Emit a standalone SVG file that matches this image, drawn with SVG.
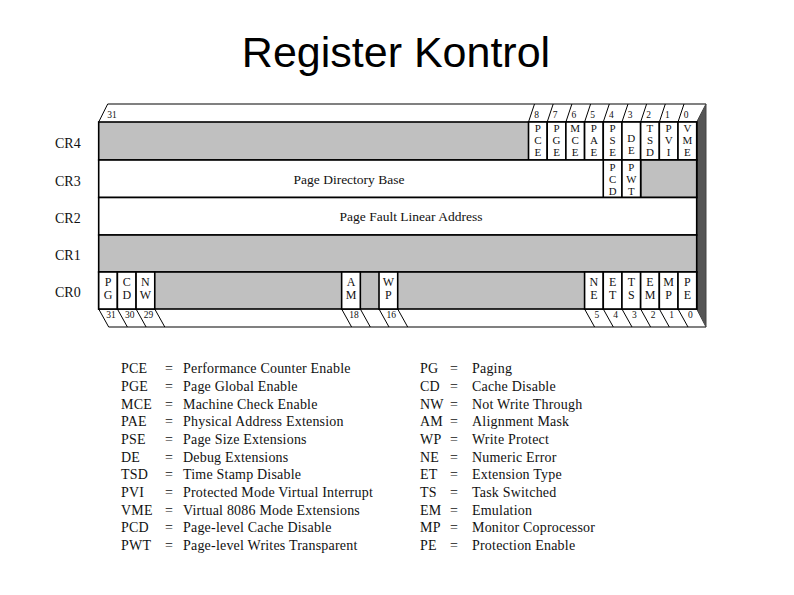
<svg xmlns="http://www.w3.org/2000/svg" width="794" height="595" viewBox="0 0 794 595">
<style>
.title{font-family:"Liberation Sans",Arial,sans-serif;font-size:43px;fill:#000}
.t{font-family:"Liberation Serif","Times New Roman",serif;fill:#111}
.rl{font-size:14px}
.cell{font-size:11px;text-anchor:middle}
.c3{font-size:10.8px;text-anchor:middle}
.c0{font-size:12px;text-anchor:middle}
.num{font-size:9.5px;text-anchor:middle}
.big{font-size:13.5px;text-anchor:middle}
.lg{font-size:14px;letter-spacing:0.2px}
.gray{fill:#c0c0c0;stroke:#000;stroke-width:1.6}
.white{fill:#fff;stroke:#000;stroke-width:1.6}
.edge{stroke:#000;stroke-width:1;fill:none}
.face{stroke:#808080;stroke-width:2.2;fill:none}
</style>
<rect width="794" height="595" fill="#fff"/>
<text class="title" x="396" y="67" text-anchor="middle">Register Kontrol</text>

<g id="frame">
  <line class="face" x1="107.7" y1="104" x2="706" y2="104"/>
  <line class="face" x1="108.7" y1="327" x2="706" y2="327"/>
  <polygon points="696.7,122 706,104 706,327 696.7,309" fill="#555" stroke="#444" stroke-width="1"/>
  <g class="edge">
    <line x1="98.7" y1="122" x2="107.7" y2="104"/>
    <line x1="528.51" y1="122" x2="534.5" y2="104"/>
    <line x1="547.2" y1="122" x2="553.2" y2="104"/>
    <line x1="565.89" y1="122" x2="571.9" y2="104"/>
    <line x1="584.58" y1="122" x2="590.6" y2="104"/>
    <line x1="603.26" y1="122" x2="609.3" y2="104"/>
    <line x1="621.95" y1="122" x2="628" y2="104"/>
    <line x1="640.64" y1="122" x2="646.6" y2="104"/>
    <line x1="659.33" y1="122" x2="665.3" y2="104"/>
    <line x1="678.01" y1="122" x2="684" y2="104"/>
    <line x1="98.7" y1="309" x2="108.7" y2="327"/>
    <line x1="117.39" y1="309" x2="127.4" y2="327"/>
    <line x1="136.07" y1="309" x2="146.1" y2="327"/>
    <line x1="154.76" y1="309" x2="164.8" y2="327"/>
    <line x1="341.64" y1="309" x2="351.6" y2="327"/>
    <line x1="360.33" y1="309" x2="370.3" y2="327"/>
    <line x1="379.01" y1="309" x2="389" y2="327"/>
    <line x1="397.69" y1="309" x2="407.7" y2="327"/>
    <line x1="584.58" y1="309" x2="594.6" y2="327"/>
    <line x1="603.26" y1="309" x2="613.3" y2="327"/>
    <line x1="621.95" y1="309" x2="632" y2="327"/>
    <line x1="640.64" y1="309" x2="650.6" y2="327"/>
    <line x1="659.33" y1="309" x2="669.3" y2="327"/>
    <line x1="678.01" y1="309" x2="688" y2="327"/>
  </g>
  <g class="t num">
    <text x="112" y="118">31</text>
    <text x="536.5" y="118">8</text>
    <text x="555.2" y="118">7</text>
    <text x="573.9" y="118">6</text>
    <text x="592.6" y="118">5</text>
    <text x="611.3" y="118">4</text>
    <text x="630" y="118">3</text>
    <text x="648.6" y="118">2</text>
    <text x="667.3" y="118">1</text>
    <text x="686" y="118">0</text>
    <text x="111" y="318">31</text>
    <text x="129.7" y="318">30</text>
    <text x="148.4" y="318">29</text>
    <text x="354" y="318">18</text>
    <text x="391.3" y="318">16</text>
    <text x="596.9" y="318">5</text>
    <text x="615.6" y="318">4</text>
    <text x="634.3" y="318">3</text>
    <text x="653" y="318">2</text>
    <text x="671.6" y="318">1</text>
    <text x="690.3" y="318">0</text>
  </g>
</g>

<g id="cr4">
  <text class="t rl" x="55" y="148">CR4</text>
  <rect class="gray" x="98.7" y="122" width="598" height="38"/>
  <g class="white">
    <rect x="528.51" y="122" width="18.69" height="38"/>
    <rect x="547.2" y="122" width="18.69" height="38"/>
    <rect x="565.89" y="122" width="18.69" height="38"/>
    <rect x="584.58" y="122" width="18.69" height="38"/>
    <rect x="603.26" y="122" width="18.69" height="38"/>
    <rect x="621.95" y="122" width="18.69" height="38"/>
    <rect x="640.64" y="122" width="18.69" height="38"/>
    <rect x="659.33" y="122" width="18.69" height="38"/>
    <rect x="678.01" y="122" width="18.69" height="38"/>
  </g>
  <g class="t cell">
    <text y="131.5"><tspan x="537.86">P</tspan><tspan x="537.86" dy="12.3">C</tspan><tspan x="537.86" dy="12.3">E</tspan></text>
    <text y="131.5"><tspan x="556.55">P</tspan><tspan x="556.55" dy="12.3">G</tspan><tspan x="556.55" dy="12.3">E</tspan></text>
    <text y="131.5"><tspan x="575.23">M</tspan><tspan x="575.23" dy="12.3">C</tspan><tspan x="575.23" dy="12.3">E</tspan></text>
    <text y="131.5"><tspan x="593.92">P</tspan><tspan x="593.92" dy="12.3">A</tspan><tspan x="593.92" dy="12.3">E</tspan></text>
    <text y="131.5"><tspan x="612.61">P</tspan><tspan x="612.61" dy="12.3">S</tspan><tspan x="612.61" dy="12.3">E</tspan></text>
    <text y="141.5"><tspan x="631.3">D</tspan><tspan x="631.3" dy="12.3">E</tspan></text>
    <text y="131.5"><tspan x="649.98">T</tspan><tspan x="649.98" dy="12.3">S</tspan><tspan x="649.98" dy="12.3">D</tspan></text>
    <text y="131.5"><tspan x="668.67">P</tspan><tspan x="668.67" dy="12.3">V</tspan><tspan x="668.67" dy="12.3">I</tspan></text>
    <text y="131.5"><tspan x="687.36">V</tspan><tspan x="687.36" dy="12.3">M</tspan><tspan x="687.36" dy="12.3">E</tspan></text>
  </g>
</g>

<g id="cr3">
  <text class="t rl" x="55" y="186">CR3</text>
  <rect class="white" x="98.7" y="160" width="598" height="37.5"/>
  <rect class="gray" x="640.64" y="160" width="56.06" height="37.5"/>
  <rect class="white" x="603.26" y="160" width="18.69" height="37.5"/>
  <rect class="white" x="621.95" y="160" width="18.69" height="37.5"/>
  <text class="t big" x="349" y="184">Page Directory Base</text>
  <g class="t c3">
    <text y="170.5"><tspan x="612.61">P</tspan><tspan x="612.61" dy="12">C</tspan><tspan x="612.61" dy="12">D</tspan></text>
    <text y="170.5"><tspan x="631.3">P</tspan><tspan x="631.3" dy="12">W</tspan><tspan x="631.3" dy="12">T</tspan></text>
  </g>
</g>

<g id="cr2">
  <text class="t rl" x="55" y="223">CR2</text>
  <rect class="white" x="98.7" y="197.5" width="598" height="37.5"/>
  <text class="t big" x="411" y="221">Page Fault Linear Address</text>
</g>

<g id="cr1">
  <text class="t rl" x="55" y="260">CR1</text>
  <rect class="gray" x="98.7" y="235" width="598" height="37"/>
</g>

<g id="cr0">
  <text class="t rl" x="55" y="297">CR0</text>
  <rect class="gray" x="98.7" y="272" width="598" height="37"/>
  <g class="white">
    <rect x="98.7" y="272" width="18.69" height="37"/>
    <rect x="117.39" y="272" width="18.69" height="37"/>
    <rect x="136.07" y="272" width="18.69" height="37"/>
    <rect x="341.64" y="272" width="18.69" height="37"/>
    <rect x="379.01" y="272" width="18.69" height="37"/>
    <rect x="584.58" y="272" width="18.69" height="37"/>
    <rect x="603.26" y="272" width="18.69" height="37"/>
    <rect x="621.95" y="272" width="18.69" height="37"/>
    <rect x="640.64" y="272" width="18.69" height="37"/>
    <rect x="659.33" y="272" width="18.69" height="37"/>
    <rect x="678.01" y="272" width="18.69" height="37"/>
  </g>
  <g class="t c0">
    <text y="286"><tspan x="108.04">P</tspan><tspan x="108.04" dy="13.4">G</tspan></text>
    <text y="286"><tspan x="126.73">C</tspan><tspan x="126.73" dy="13.4">D</tspan></text>
    <text y="286"><tspan x="145.41">N</tspan><tspan x="145.41" dy="13.4">W</tspan></text>
    <text y="286"><tspan x="350.98">A</tspan><tspan x="350.98" dy="13.4">M</tspan></text>
    <text y="286"><tspan x="388.35">W</tspan><tspan x="388.35" dy="13.4">P</tspan></text>
    <text y="286"><tspan x="593.92">N</tspan><tspan x="593.92" dy="13.4">E</tspan></text>
    <text y="286"><tspan x="612.61">E</tspan><tspan x="612.61" dy="13.4">T</tspan></text>
    <text y="286"><tspan x="631.3">T</tspan><tspan x="631.3" dy="13.4">S</tspan></text>
    <text y="286"><tspan x="649.98">E</tspan><tspan x="649.98" dy="13.4">M</tspan></text>
    <text y="286"><tspan x="668.67">M</tspan><tspan x="668.67" dy="13.4">P</tspan></text>
    <text y="286"><tspan x="687.36">P</tspan><tspan x="687.36" dy="13.4">E</tspan></text>
  </g>
</g>

<g id="legend-left" class="t lg">
  <text x="121" y="373.3">PCE</text><text x="165" y="373.3">=</text><text x="183" y="373.3">Performance Counter Enable</text>
  <text x="121" y="391">PGE</text><text x="165" y="391">=</text><text x="183" y="391">Page Global Enable</text>
  <text x="121" y="408.6">MCE</text><text x="165" y="408.6">=</text><text x="183" y="408.6">Machine Check Enable</text>
  <text x="121" y="426.3">PAE</text><text x="165" y="426.3">=</text><text x="183" y="426.3">Physical Address Extension</text>
  <text x="121" y="444">PSE</text><text x="165" y="444">=</text><text x="183" y="444">Page Size Extensions</text>
  <text x="121" y="461.6">DE</text><text x="165" y="461.6">=</text><text x="183" y="461.6">Debug Extensions</text>
  <text x="121" y="479.3">TSD</text><text x="165" y="479.3">=</text><text x="183" y="479.3">Time Stamp Disable</text>
  <text x="121" y="497">PVI</text><text x="165" y="497">=</text><text x="183" y="497">Protected Mode Virtual Interrupt</text>
  <text x="121" y="514.7">VME</text><text x="165" y="514.7">=</text><text x="183" y="514.7">Virtual 8086 Mode Extensions</text>
  <text x="121" y="532.3">PCD</text><text x="165" y="532.3">=</text><text x="183" y="532.3">Page-level Cache Disable</text>
  <text x="121" y="550">PWT</text><text x="165" y="550">=</text><text x="183" y="550">Page-level Writes Transparent</text>
</g>

<g id="legend-right" class="t lg">
  <text x="420" y="373.3">PG</text><text x="450" y="373.3">=</text><text x="472" y="373.3">Paging</text>
  <text x="420" y="391">CD</text><text x="450" y="391">=</text><text x="472" y="391">Cache Disable</text>
  <text x="420" y="408.6">NW</text><text x="450" y="408.6">=</text><text x="472" y="408.6">Not Write Through</text>
  <text x="420" y="426.3">AM</text><text x="450" y="426.3">=</text><text x="472" y="426.3">Alignment Mask</text>
  <text x="420" y="444">WP</text><text x="450" y="444">=</text><text x="472" y="444">Write Protect</text>
  <text x="420" y="461.6">NE</text><text x="450" y="461.6">=</text><text x="472" y="461.6">Numeric Error</text>
  <text x="420" y="479.3">ET</text><text x="450" y="479.3">=</text><text x="472" y="479.3">Extension Type</text>
  <text x="420" y="497">TS</text><text x="450" y="497">=</text><text x="472" y="497">Task Switched</text>
  <text x="420" y="514.7">EM</text><text x="450" y="514.7">=</text><text x="472" y="514.7">Emulation</text>
  <text x="420" y="532.3">MP</text><text x="450" y="532.3">=</text><text x="472" y="532.3">Monitor Coprocessor</text>
  <text x="420" y="550">PE</text><text x="450" y="550">=</text><text x="472" y="550">Protection Enable</text>
</g>
</svg>
